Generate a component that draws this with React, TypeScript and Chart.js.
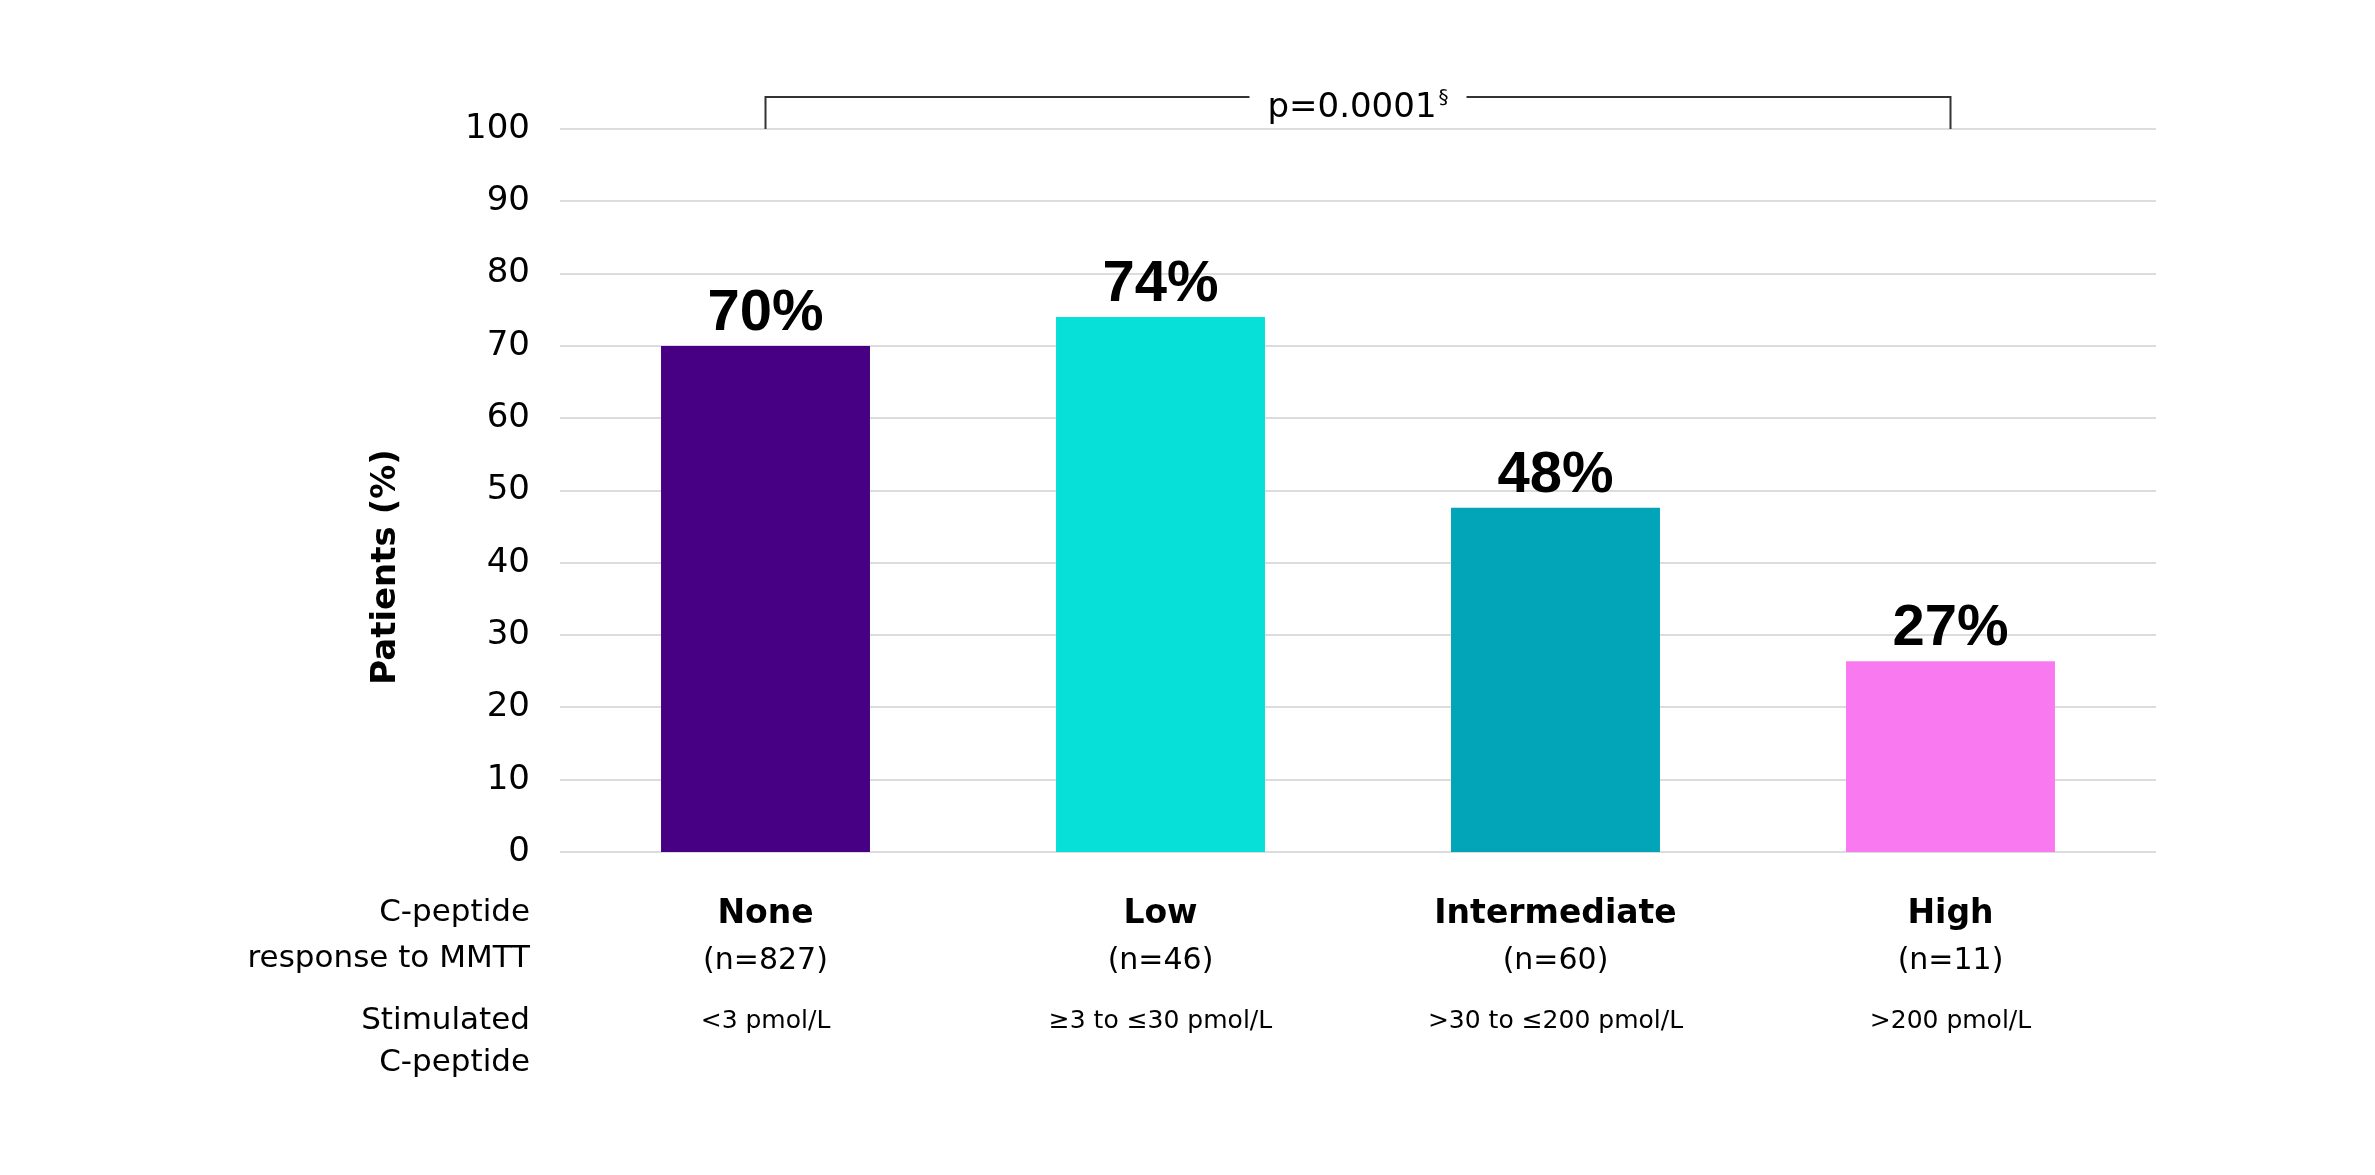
import React, { useEffect, useRef } from "react";
import { Chart, registerables } from "chart.js";

Chart.register(...registerables);

const categories = ["None", "Low", "Intermediate", "High"];
const sampleSizes = ["(n=827)", "(n=46)", "(n=60)", "(n=11)"];
const ranges = ["<3 pmol/L", "≥3 to ≤30 pmol/L", ">30 to ≤200 pmol/L", ">200 pmol/L"];
const values = [70, 74, 47.6, 26.4];
const valueLabels = ["70%", "74%", "48%", "27%"];
const barColors = ["#470084", "#07E0D9", "#01A5B7", "#F979F0"];
const rowLabelsTop = ["C-peptide", "response to MMTT"];
const rowLabelsBottom = ["Stimulated", "C-peptide"];
const yMin = 0;
const yMax = 100;
const yStep = 10;
const yTitle = "Patients (%)";
const pValueText = "p=0.0001";
const pValueMark = "§";

const W = 2359;
const H = 1159;
const FONT = "'DejaVu Sans', sans-serif";

const overlay = {
  id: "overlay",
  beforeDatasetsDraw(chart: any) {
    const { ctx, chartArea } = chart;
    const y = chart.scales.y;
    ctx.save();
    ctx.strokeStyle = "#dcdcdc";
    ctx.lineWidth = 2;
    y.ticks.forEach((t: any) => {
      const py = Math.round(y.getPixelForValue(t.value));
      ctx.beginPath();
      ctx.moveTo(chartArea.left - 8, py);
      ctx.lineTo(chartArea.right + 8, py);
      ctx.stroke();
    });
    ctx.restore();
  },
  afterDatasetsDraw(chart: any) {
    const { ctx } = chart;
    const y = chart.scales.y;
    const bars = chart.getDatasetMeta(0).data;
    ctx.save();
    ctx.fillStyle = "#000";

    // value labels
    ctx.font = `bold 58px 'Liberation Sans', Arial, sans-serif`;
    ctx.textAlign = "center";
    ctx.textBaseline = "alphabetic";
    bars.forEach((b: any, i: number) => {
      ctx.fillText(valueLabels[i], b.x, b.y - 16);
    });

    // category rows
    bars.forEach((b: any, i: number) => {
      ctx.textBaseline = "middle";
      ctx.font = `bold 33px ${FONT}`;
      ctx.fillText(categories[i], b.x, 906);
      ctx.font = `30px ${FONT}`;
      ctx.fillText(sampleSizes[i], b.x, 953);
      ctx.font = `25px ${FONT}`;
      ctx.fillText(ranges[i], b.x, 1013);
    });

    // left row labels
    ctx.textAlign = "right";
    ctx.textBaseline = "middle";
    ctx.font = `31px ${FONT}`;
    const lx = 522;
    ctx.fillText(rowLabelsTop[0], lx, 905);
    ctx.fillText(rowLabelsTop[1], lx, 951);
    ctx.fillText(rowLabelsBottom[0], lx, 1013);
    ctx.fillText(rowLabelsBottom[1], lx, 1055);

    // y-axis title
    ctx.save();
    ctx.translate(378, 559);
    ctx.rotate(-Math.PI / 2);
    ctx.textAlign = "center";
    ctx.textBaseline = "middle";
    ctx.font = `bold 34px ${FONT}`;
    ctx.fillText(yTitle, 0, 0);
    ctx.restore();

    // p-value bracket
    const x0 = bars[0].x;
    const x1 = bars[bars.length - 1].x;
    const cx = (x0 + x1) / 2;
    const by = 89;
    const y100 = y.getPixelForValue(yMax);
    ctx.font = `34px ${FONT}`;
    const wMain = ctx.measureText(pValueText).width;
    ctx.font = `20px ${FONT}`;
    const wMark = ctx.measureText(pValueMark).width;
    const total = wMain + wMark + 2;
    const tx = cx - total / 2;
    const gap = 18;

    ctx.strokeStyle = "#333";
    ctx.lineWidth = 2;
    ctx.beginPath();
    ctx.moveTo(x0, y100);
    ctx.lineTo(x0, by);
    ctx.lineTo(tx - gap, by);
    ctx.moveTo(tx + total + gap, by);
    ctx.lineTo(x1, by);
    ctx.lineTo(x1, y100);
    ctx.stroke();

    ctx.textAlign = "left";
    ctx.textBaseline = "alphabetic";
    ctx.font = `34px ${FONT}`;
    ctx.fillText(pValueText, tx, 109);
    ctx.font = `20px ${FONT}`;
    ctx.fillText(pValueMark, tx + wMain + 2, 95);

    ctx.restore();
  },
};

export default function App() {
  const canvasRef = useRef<HTMLCanvasElement | null>(null);

  useEffect(() => {
    const canvas = canvasRef.current;
    if (!canvas) return;
    const chart = new Chart(canvas, {
      type: "bar",
      data: {
        labels: categories,
        datasets: [
          {
            data: values,
            backgroundColor: barColors,
            borderWidth: 0,
            categoryPercentage: 1,
            barPercentage: 0.529,
          },
        ],
      },
      options: {
        responsive: false,
        animation: false,
        events: [],
        layout: { padding: { left: 0, top: 121, right: 219, bottom: 315 } },
        plugins: {
          legend: { display: false },
          tooltip: { enabled: false },
          title: { display: false },
        },
        scales: {
          x: {
            display: false,
            offset: true,
          },
          y: {
            min: yMin,
            max: yMax,
            afterFit(scale: any) {
              scale.width = 560;
            },
            border: { display: false },
            grid: { display: false, drawTicks: false },
            ticks: {
              stepSize: yStep,
              padding: 38,
              color: "#000",
              font: { family: "'DejaVu Sans', sans-serif", size: 34 },
            },
          },
        },
      },
      plugins: [overlay],
    });
    return () => chart.destroy();
  }, []);

  return (
    <div style={{ width: W, height: H }}>
      <canvas ref={canvasRef} width={W} height={H} style={{ display: "block" }} />
    </div>
  );
}
